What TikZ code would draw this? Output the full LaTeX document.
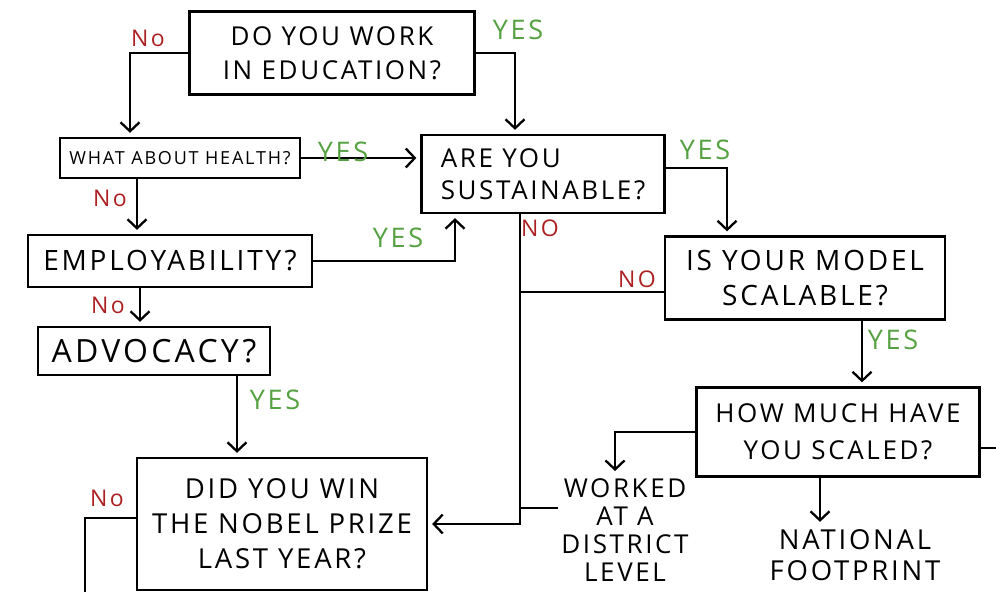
\documentclass[tikz,border=0pt]{standalone}
\usepackage{fontspec}
\setmainfont[LetterSpace=10]{Open Sans}
\usepackage{tikz}
\usetikzlibrary{positioning,arrows.meta}
\definecolor{brique}{RGB}{172,32,34}
\definecolor{herbe}{RGB}{86,162,66}
\newcommand{\hw}[2]{\fontsize{#1}{#2}\selectfont}

\begin{document}
\begin{tikzpicture}[x=1pt, y=-1pt,
  q/.style 2 args={rectangle, draw, line width=2.3pt, minimum width=#1, minimum height=#2,
                   inner sep=0pt, align=center},
  fl/.style={line width=2.3pt, -{Straight Barb[length=9pt,width=19pt,line width=2.3pt]}, shorten >=4pt},
  tr/.style={line width=2.3pt},
  oui/.style={text=herbe, font=\hw{27}{30}},
  non/.style={text=brique, font=\hw{23}{26}}]

\useasboundingbox (0,0) rectangle (996,592);

% questions
\node[q={285pt}{83pt}, font=\hw{26}{34}] (edu) at (332,53) {DO YOU WORK\\ IN EDUCATION?};
\node[q={240pt}{40pt}, font=\hw{18}{22}] (health) at (180,158) {WHAT ABOUT HEALTH?};
\node[q={243pt}{78pt}, font=\hw{26}{32}, align=left] (sust) at (543,174) {ARE YOU\\ SUSTAINABLE?};
\node[q={284pt}{52pt}, font=\hw{28}{32}] (emp) at (170,261) {EMPLOYABILITY?};
\node[q={232pt}{48pt}, font=\hw{32}{34}] (adv) at (154,351) {ADVOCACY?};
\node[q={290pt}{132pt}, font=\hw{27.5}{35}] (nobel) at (282,524) {DID YOU WIN\\ THE NOBEL PRIZE\\ LAST YEAR?};
\node[q={280pt}{83pt}, font=\hw{28}{35}] (scal) at (805,278) {IS YOUR MODEL\\ SCALABLE?};
\node[q={283pt}{89pt}, font=\hw{26}{37}] (howm) at (838,432) {HOW MUCH HAVE\\ YOU SCALED?};

% issues
\node[font=\hw{26}{28}, align=center] (dist) at (625,530) {WORKED\\ AT A\\ DISTRICT\\ LEVEL};
\node[font=\hw{27.5}{31}, align=center] (natl) at (855,555) {NATIONAL\\ FOOTPRINT};

\coordinate (nobar) at ([xshift=-23pt]sust.south);
\coordinate (fin1) at (85,592);
\coordinate (fin2) at (996,448);

% fleches
\draw[fl] (edu.west) -| ([xshift=-50pt]health.north);
\draw[fl] (edu.east) -| ([xshift=-28pt]sust.north);
\draw[fl] (health.east) -- (health.east -| sust.west);
\draw[fl] ([xshift=-43pt]health.south) -- ([xshift=-43pt]health.south |- emp.north);
\draw[fl] (emp.east) -| ([xshift=-88pt]sust.south);
\draw[fl] ([xshift=-30pt]emp.south) -- ([xshift=-30pt]emp.south |- adv.north);
\draw[fl] ([xshift=83pt]adv.south) -- ([xshift=83pt]adv.south |- nobel.north);
\draw[tr] ([yshift=6pt]nobel.west) -| (fin1);
\draw[fl] ([yshift=6pt]sust.east) -| ([xshift=-78pt]scal.north);
\draw[fl] (nobar) |- (nobel.east);
\draw[tr] ([yshift=-14pt]scal.west) -- ([yshift=-14pt]scal.west -| nobar);
\draw[fl] ([xshift=57pt]scal.south) -- ([xshift=57pt]scal.south |- howm.north);
\draw[fl] (howm.west) -| ([xshift=-10pt]dist.north);
\draw[tr] ([yshift=22pt]dist.west) -- ([yshift=22pt]dist.west -| nobar);
\draw[fl] ([xshift=-18pt]howm.south) -- ([xshift=-18pt]howm.south |- natl.north);
\draw[tr] ([yshift=-16pt]howm.east) -- (fin2);

% oui / non
\node[non] (n1) at (148,38) {No};
\node[oui] (y1) at (518,30) {YES};
\node[oui] (y2) at (343,152) {YES};
\node[non] (n2) at (110,198) {No};
\node[oui] (y3) at (398,238) {YES};
\node[non] (n3) at (108,305) {No};
\node[oui] (y4) at (275,400) {YES};
\node[non] (n4) at (107,498) {No};
\node[oui] (y5) at (705,150) {YES};
\node[non] (n5) at (540,228) {NO};
\node[non] (n6) at (637,279) {NO};
\node[oui] (y6) at (893,340) {YES};

\end{tikzpicture}
\end{document}
